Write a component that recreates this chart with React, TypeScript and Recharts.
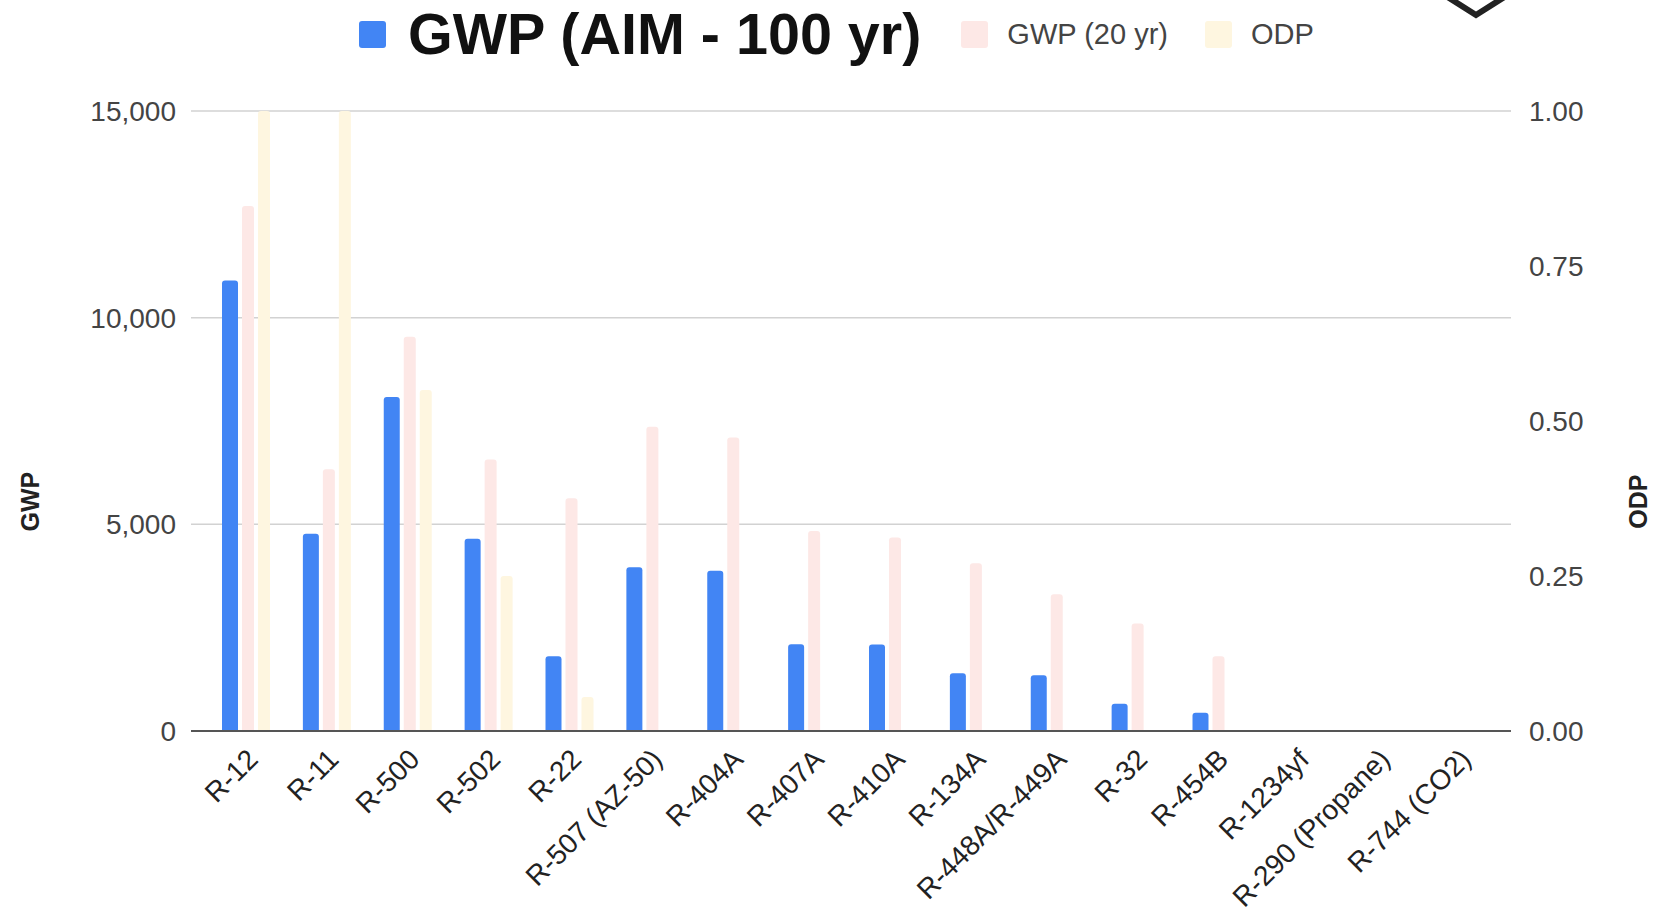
import React from 'react';
import { BarChart, Bar, XAxis, YAxis, CartesianGrid, Legend, ReferenceLine, Label } from 'recharts';

const refrigerants = [
  'R-12', 'R-11', 'R-500', 'R-502', 'R-22', 'R-507 (AZ-50)', 'R-404A', 'R-407A',
  'R-410A', 'R-134A', 'R-448A/R-449A', 'R-32', 'R-454B', 'R-1234yf', 'R-290 (Propane)', 'R-744 (CO2)'
];
const gwp100 = [10900, 4770, 8080, 4650, 1810, 3960, 3880, 2100, 2090, 1400, 1350, 660, 440, 4, 3, 1];
const gwp20 = [12700, 6330, 9540, 6570, 5630, 7360, 7100, 4840, 4680, 4060, 3310, 2600, 1810, 1, 3, 1];
const odp = [1.0, 1.0, 0.55, 0.25, 0.055, 0, 0, 0, 0, 0, 0, 0, 0, 0, 0, 0];

const gwpTicks = [0, 5000, 10000, 15000];
const odpTicks = [0, 0.25, 0.5, 0.75, 1];

const FONT = '"Liberation Sans", Arial, sans-serif';
const BLUE = '#4285f4';
const PINK = '#fde8e6';
const YELLOW = '#fef6e0';

const chartData = refrigerants.map((name, i) => ({
  name,
  gwp100: gwp100[i],
  gwp20: gwp20[i],
  odp: odp[i]
}));

const RotatedTick = ({ x, y, payload }: any) => (
  <g transform={`translate(${x + 13},${y + 30})`}>
    <text textAnchor="end" transform="rotate(-45)" fill="#222" fontSize={28} fontFamily={FONT}>
      {payload.value}
    </text>
  </g>
);

const axisTitle = (text: string, dx: number) => (props: any) => {
  const { x, y, height } = props.viewBox;
  const cx = x + dx;
  const cy = y + height * 0.63;
  return (
    <text
      x={cx}
      y={cy}
      transform={`rotate(-90, ${cx}, ${cy})`}
      textAnchor="middle"
      dominantBaseline="central"
      fontSize={25}
      fontWeight="bold"
      fill="#222"
      fontFamily={FONT}
    >
      {text}
    </text>
  );
};

const Swatch = ({ color }: { color: string }) => (
  <span style={{ display: 'inline-block', width: 27, height: 27, borderRadius: 3, background: color }} />
);

const ChartLegend = () => (
  <div style={{ display: 'flex', alignItems: 'center', fontFamily: FONT, paddingLeft: 359, height: 68 }}>
    <Swatch color={BLUE} />
    <span style={{ marginLeft: 22, fontSize: 57.5, fontWeight: 'bold', color: '#111' }}>GWP (AIM - 100 yr)</span>
    <span style={{ marginLeft: 40, display: 'flex' }}><Swatch color={PINK} /></span>
    <span style={{ marginLeft: 19, fontSize: 29, color: '#444' }}>GWP (20 yr)</span>
    <span style={{ marginLeft: 37, display: 'flex' }}><Swatch color={YELLOW} /></span>
    <span style={{ marginLeft: 19, fontSize: 29, color: '#444' }}>ODP</span>
  </div>
);

const App = () => {
  return (
    <div style={{ position: 'absolute', left: 0, top: 0, width: 1671, height: 913, background: '#fff', overflow: 'hidden' }}>
      <BarChart
        width={1671}
        height={913}
        data={chartData}
        margin={{ top: 111, right: 0, bottom: 0, left: 0 }}
        barGap={4}
      >
        <CartesianGrid yAxisId="left" vertical={false} stroke="#d2d2d2" strokeWidth={1.5} />
        <XAxis
          dataKey="name"
          interval={0}
          height={182}
          tick={<RotatedTick />}
          tickLine={false}
          axisLine={false}
          tickSize={0}
          tickMargin={0}
          padding={{ left: 15, right: 11 }}
        />
        <YAxis
          yAxisId="left"
          orientation="left"
          width={191}
          domain={[0, 15000]}
          ticks={gwpTicks}
          tickFormatter={(v: number) => v.toLocaleString('en-US')}
          tick={{ fill: '#444', fontSize: 28, fontFamily: FONT }}
          tickLine={false}
          axisLine={false}
          tickSize={0}
          tickMargin={15}
        >
          <Label content={axisTitle('GWP', 30)} />
        </YAxis>
        <YAxis
          yAxisId="right"
          orientation="right"
          width={160}
          domain={[0, 1]}
          ticks={odpTicks}
          tickFormatter={(v: number) => v.toFixed(2)}
          tick={{ fill: '#444', fontSize: 28, fontFamily: FONT, textAnchor: 'start' }}
          tickLine={false}
          axisLine={false}
          tickSize={0}
          tickMargin={18}
        >
          <Label content={axisTitle('ODP', 127)} />
        </YAxis>
        <Legend
          verticalAlign="middle"
          align="center"
          layout="horizontal"
          content={<ChartLegend />}
          wrapperStyle={{ position: 'absolute', top: 0, left: 0, width: 1671, height: 68 }}
        />
        <Bar yAxisId="left" dataKey="gwp100" name="GWP (AIM - 100 yr)" fill={BLUE} barSize={16} radius={[3, 3, 0, 0]} isAnimationActive={false} />
        <Bar yAxisId="left" dataKey="gwp20" name="GWP (20 yr)" fill={PINK} barSize={12} radius={[3, 3, 0, 0]} isAnimationActive={false} />
        <Bar yAxisId="right" dataKey="odp" name="ODP" fill={YELLOW} barSize={12} radius={[3, 3, 0, 0]} isAnimationActive={false} />
        <ReferenceLine yAxisId="left" y={0} stroke="#555" strokeWidth={2} />
      </BarChart>
      <svg style={{ position: 'absolute', left: 1440, top: -4, width: 72, height: 26 }}>
        <polyline points="6,0 36,19 66,0" fill="none" stroke="#222" strokeWidth={6} />
      </svg>
    </div>
  );
};

export default App;
